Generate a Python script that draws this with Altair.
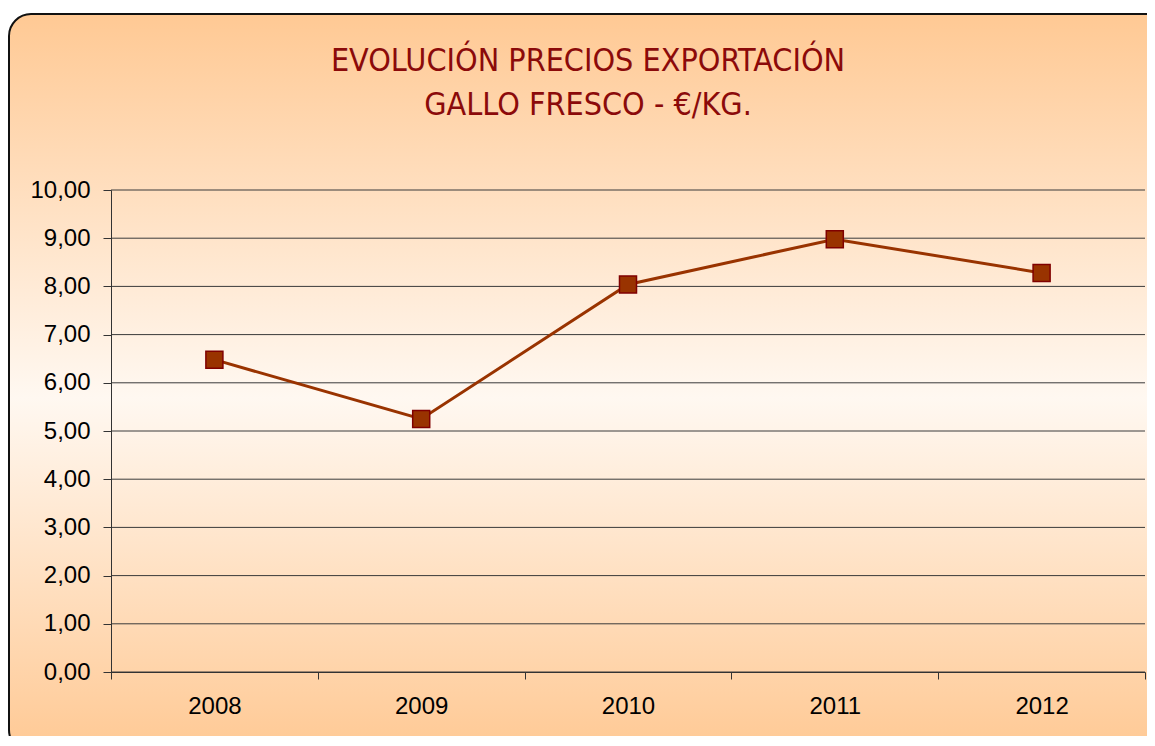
import altair as alt
import pandas as pd

years = ["2008", "2009", "2010", "2011", "2012"]
prices = [6.48, 5.25, 8.04, 8.98, 8.28]
y_ticks = [0, 1, 2, 3, 4, 5, 6, 7, 8, 9, 10]
title_lines = ["EVOLUCIÓN PRECIOS EXPORTACIÓN", "GALLO FRESCO - €/KG."]

df = pd.DataFrame({"year": years, "price": prices})
grid_df = pd.DataFrame({"v": y_ticks})
bg_df = pd.DataFrame({"a": [0]})
title_df = pd.DataFrame({"t": ["\n".join(title_lines)]})

W, H = 1034, 482

bg = alt.Chart(bg_df).mark_rect(
    fill=alt.Gradient(
        gradient="linear", x1=0, y1=0, x2=0, y2=1,
        stops=[
            alt.GradientStop(offset=0, color="#FFC994"),
            alt.GradientStop(offset=0.52, color="#FFF8F1"),
            alt.GradientStop(offset=1, color="#FFC994"),
        ],
    ),
    stroke="#111111", strokeWidth=2, cornerRadius=22,
).encode(
    x=alt.value(-102), x2=alt.value(1057), y=alt.value(-176), y2=alt.value(562)
)

title = alt.Chart(title_df).mark_text(
    font="Liberation Sans Narrow, DejaVu Sans Condensed, Arial Narrow, sans-serif",
    fontSize=32, color="#8B0A0A", align="center", baseline="alphabetic",
    lineBreak="\n", lineHeight=44,
).encode(text="t:N", x=alt.value(477), y=alt.value(-119))

grid = alt.Chart(grid_df).mark_rule(color="#3a3a3a", strokeWidth=1).encode(
    y=alt.Y("v:Q", scale=alt.Scale(domain=[0, 10]))
)

x_enc = alt.X(
    "year:N", sort=years, title=None,
    scale=alt.Scale(type="band", paddingInner=0, paddingOuter=0),
    axis=alt.Axis(
        labelAngle=0, tickBand="extent", tickSize=7, tickColor="#333333",
        domainColor="#333333", labelFont="Liberation Sans", labelFontSize=24,
        labelColor="#000000", labelPadding=15, zindex=1, grid=False,
    ),
)
y_enc = alt.Y(
    "price:Q", title=None,
    scale=alt.Scale(domain=[0, 10]),
    axis=alt.Axis(
        values=y_ticks, grid=False, tickSize=8, tickColor="#333333",
        domainColor="#333333", labelFont="Liberation Sans", labelFontSize=24,
        labelColor="#000000", labelPadding=13, zindex=1,
        labelExpr="replace(format(datum.value, '.2f'), '.', ',')",
    ),
)

line = alt.Chart(df).mark_line(color="#993300", strokeWidth=3).encode(x=x_enc, y=y_enc)
pts = alt.Chart(df).mark_square(
    size=290, fill="#993300", stroke="#800000", strokeWidth=1.5, opacity=1
).encode(x=x_enc, y=y_enc)

chart = alt.layer(bg, title, grid, line, pts).properties(
    width=W, height=H,
    autosize=alt.AutoSizeParams(type="none"),
    padding={"left": 103, "top": 182, "right": 2, "bottom": 64},
).configure_view(stroke=None)

chart.save("out.html", embed_options={"renderer": "svg", "actions": False})
